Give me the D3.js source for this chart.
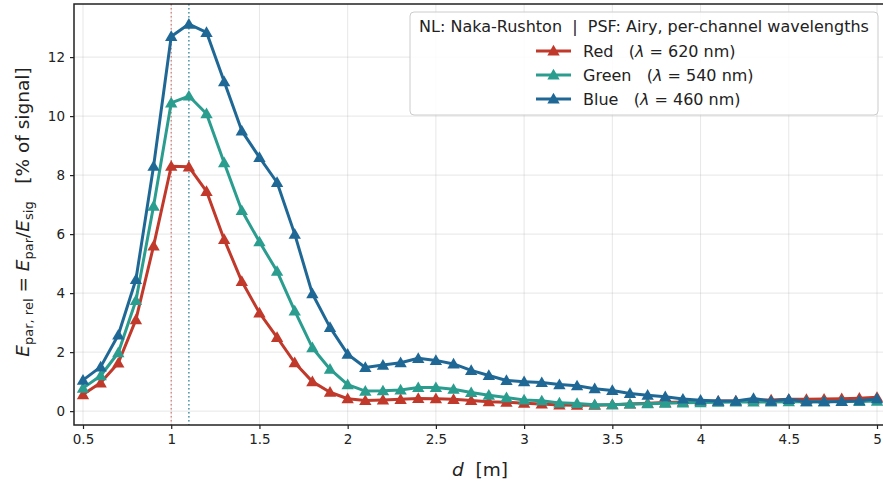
<!DOCTYPE html>
<html>
<head>
<meta charset="utf-8">
<script src="https://cdn.jsdelivr.net/npm/d3@7"></script>
<style>
  body { margin: 0; background: #fff; }
  text { font-family: "DejaVu Sans", sans-serif; }
</style>
</head>
<body>
<div id="chart"></div>
<script>
// data
const distances = [0.5, 0.6, 0.7, 0.8, 0.9, 1.0, 1.1, 1.2, 1.3, 1.4, 1.5, 1.6, 1.7, 1.8, 1.9,
  2.0, 2.1, 2.2, 2.3, 2.4, 2.5, 2.6, 2.7, 2.8, 2.9, 3.0, 3.1, 3.2, 3.3, 3.4, 3.5, 3.6, 3.7,
  3.8, 3.9, 4.0, 4.1, 4.2, 4.3, 4.4, 4.5, 4.6, 4.7, 4.8, 4.9, 5.0];

const redValues = [0.56, 0.96, 1.63, 3.1, 5.6, 8.3, 8.28, 7.45, 5.82, 4.4, 3.33, 2.5, 1.64, 1.0, 0.64,
  0.42, 0.36, 0.38, 0.4, 0.43, 0.42, 0.4, 0.36, 0.32, 0.3, 0.27, 0.24, 0.21, 0.2, 0.2, 0.22, 0.24, 0.27,
  0.29, 0.31, 0.33, 0.34, 0.35, 0.38, 0.38, 0.4, 0.4, 0.41, 0.42, 0.44, 0.47];

const greenValues = [0.78, 1.2, 1.98, 3.75, 6.95, 10.45, 10.68, 10.08, 8.42, 6.8, 5.74, 4.74, 3.4, 2.15, 1.42,
  0.9, 0.68, 0.69, 0.72, 0.8, 0.8, 0.74, 0.63, 0.54, 0.46, 0.38, 0.35, 0.28, 0.26, 0.22, 0.22, 0.24, 0.25,
  0.27, 0.28, 0.29, 0.3, 0.31, 0.31, 0.31, 0.32, 0.32, 0.32, 0.33, 0.33, 0.34];

const blueValues = [1.05, 1.5, 2.58, 4.46, 8.3, 12.7, 13.12, 12.84, 11.17, 9.5, 8.6, 7.75, 6.0, 3.98, 2.84,
  1.93, 1.48, 1.56, 1.64, 1.79, 1.72, 1.6, 1.38, 1.21, 1.04, 1.0, 0.97, 0.9, 0.86, 0.76, 0.7, 0.6, 0.54,
  0.49, 0.41, 0.37, 0.34, 0.34, 0.43, 0.34, 0.4, 0.32, 0.32, 0.33, 0.35, 0.42];

const seriesNames = ['Red', 'Green', 'Blue'];
const wavelengths = [620, 540, 460];
const peakDistances = [1.0, 1.1, 1.1];
const xTicks = [0.5, 1, 1.5, 2, 2.5, 3, 3.5, 4, 4.5, 5];
const yTicks = [0, 2, 4, 6, 8, 10, 12];
const legendTitle = 'NL: Naka-Rushton  |  PSF: Airy, per-channel wavelengths';

const colors = ['#c0392b', '#2a9d8f', '#1f6896'];
const allValues = [redValues, greenValues, blueValues];

// canvas
const svgWidth = 883;
const svgHeight = 483;
const margin = {top: 4, right: -3, bottom: 58, left: 74};
const width = svgWidth - margin.left - margin.right;
const height = svgHeight - margin.top - margin.bottom;

const svg = d3.select('#chart').append('svg')
  .attr('width', svgWidth).attr('height', svgHeight);

const chartGroup = svg.append('g').attr('transform', `translate(${margin.left}, ${margin.top})`);

const x = d3.scaleLinear().domain([0.449, 5.051]).range([0, width]);
const y = d3.scaleLinear().domain([-0.47, 13.8]).range([height, 0]);

// grid
chartGroup.append('g').selectAll('line').data(xTicks).enter().append('line')
  .attr('x1', d => x(d)).attr('x2', d => x(d))
  .attr('y1', 0).attr('y2', height)
  .attr('stroke', '#b0b0b0').attr('stroke-opacity', 0.3).attr('stroke-width', 1);
chartGroup.append('g').selectAll('line').data(yTicks).enter().append('line')
  .attr('x1', 0).attr('x2', width)
  .attr('y1', d => y(d)).attr('y2', d => y(d))
  .attr('stroke', '#b0b0b0').attr('stroke-opacity', 0.3).attr('stroke-width', 1);

// vertical dotted lines at the peaks
peakDistances.forEach((p, i) => {
  chartGroup.append('line')
    .attr('x1', x(p)).attr('x2', x(p))
    .attr('y1', 0).attr('y2', height)
    .attr('stroke', colors[i]).attr('stroke-opacity', 0.6)
    .attr('stroke-width', 1.3).attr('stroke-dasharray', '1.5,2.5');
});

// series
const line = d3.line().x((d, i) => x(distances[i])).y(d => y(d));
const tri = d3.symbol().type(d3.symbolTriangle).size(66);

allValues.forEach((vals, i) => {
  chartGroup.append('path').datum(vals)
    .attr('d', line)
    .attr('fill', 'none')
    .attr('stroke', colors[i])
    .attr('stroke-width', 3)
    .attr('stroke-linejoin', 'round');
  chartGroup.append('g').selectAll('path').data(vals).enter().append('path')
    .attr('d', tri)
    .attr('transform', (d, j) => `translate(${x(distances[j])}, ${y(d) + 1})`)
    .attr('fill', colors[i]);
});

// axes
const xAxis = chartGroup.append('g')
  .attr('transform', `translate(0, ${height})`)
  .call(d3.axisBottom(x).tickValues(xTicks).tickSize(4).tickPadding(5).tickFormat(d3.format('')));
const yAxis = chartGroup.append('g')
  .call(d3.axisLeft(y).tickValues(yTicks).tickSize(4).tickPadding(5));
[xAxis, yAxis].forEach(a => {
  a.selectAll('text').attr('font-size', 13.5).attr('fill', '#222').style('font-family', '"DejaVu Sans", sans-serif');
  a.selectAll('.tick line').attr('stroke', '#222').attr('stroke-width', 1.2);
  a.select('.domain').remove();
});

// spines
chartGroup.append('rect')
  .attr('x', 0).attr('y', 0).attr('width', width).attr('height', height)
  .attr('fill', 'none').attr('stroke', '#222').attr('stroke-width', 1.5);

// axis labels
const xLabel = svg.append('text')
  .attr('x', margin.left + x(2.75)).attr('y', 476)
  .attr('text-anchor', 'middle').attr('font-size', 18.5).attr('fill', '#222')
  .attr('xml:space', 'preserve');
xLabel.append('tspan').attr('font-style', 'italic').text('d');
xLabel.append('tspan').text('  [m]');

const yLabel = svg.append('text')
  .attr('transform', `translate(29, 212) rotate(-90)`)
  .attr('text-anchor', 'middle').attr('font-size', 18.5).attr('fill', '#222')
  .attr('xml:space', 'preserve');
yLabel.append('tspan').attr('font-style', 'italic').text('E');
yLabel.append('tspan').attr('font-size', 13).attr('dy', 4).text('par, rel');
yLabel.append('tspan').attr('dy', -4).text(' = ');
yLabel.append('tspan').attr('font-style', 'italic').text('E');
yLabel.append('tspan').attr('font-size', 13).attr('dy', 4).text('par');
yLabel.append('tspan').attr('dy', -4).text('/');
yLabel.append('tspan').attr('font-style', 'italic').text('E');
yLabel.append('tspan').attr('font-size', 13).attr('dy', 4).text('sig');
yLabel.append('tspan').attr('dy', -4).text('   [% of signal]');

// legend
const legend = svg.append('g').attr('transform', 'translate(410, 12)');
legend.append('rect')
  .attr('width', 468).attr('height', 103).attr('rx', 4)
  .attr('fill', '#fff').attr('fill-opacity', 0.85)
  .attr('stroke', '#ccc').attr('stroke-width', 1);
legend.append('text')
  .attr('x', 234).attr('y', 20).attr('text-anchor', 'middle')
  .attr('font-size', 16).attr('fill', '#222').attr('xml:space', 'preserve')
  .text(legendTitle);

seriesNames.forEach((name, i) => {
  const row = legend.append('g').attr('transform', `translate(126, ${39 + i * 24})`);
  row.append('line').attr('x1', 0).attr('x2', 35)
    .attr('stroke', colors[i]).attr('stroke-width', 3);
  row.append('path').attr('d', tri).attr('transform', 'translate(17.5, 1)').attr('fill', colors[i]);
  const t = row.append('text').attr('x', 47).attr('y', 5.5)
    .attr('font-size', 16).attr('fill', '#222').attr('xml:space', 'preserve');
  t.append('tspan').text(`${name}   (`);
  t.append('tspan').attr('font-style', 'italic').text('λ');
  t.append('tspan').text(` = ${wavelengths[i]} nm)`);
});
</script>
</body>
</html>
